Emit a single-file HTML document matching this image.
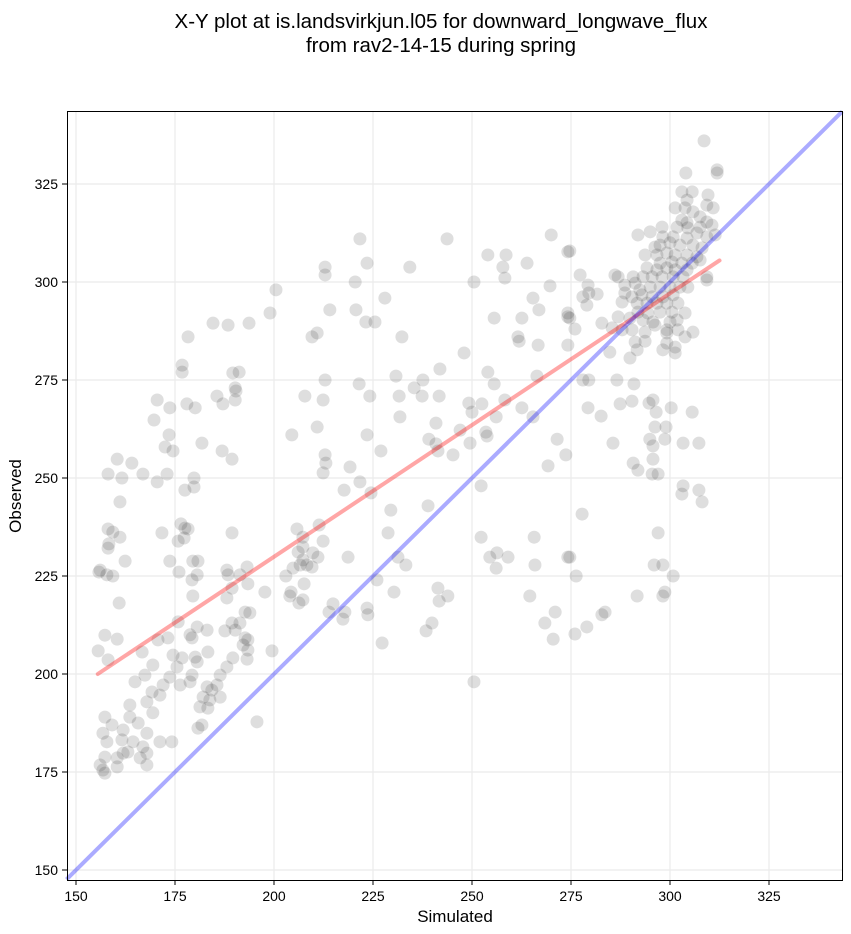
<!DOCTYPE html>
<html><head><meta charset="utf-8"><style>
html,body{margin:0;padding:0;background:#fff;}
svg{display:block;font-family:"Liberation Sans",sans-serif;}
</style></head><body>
<svg id="chart" width="851" height="934" viewBox="0 0 851 934" xmlns="http://www.w3.org/2000/svg">
<text x="441" y="28" text-anchor="middle" font-size="20.5">X-Y plot at is.landsvirkjun.l05 for downward_longwave_flux</text>
<text x="441" y="52" text-anchor="middle" font-size="20.5">from rav2-14-15 during spring</text>
<g id="grid"></g>
<g id="points"></g>
<g id="lines"></g>
<rect x="67.5" y="111.5" width="775" height="769" fill="none" stroke="#000" stroke-width="1"/>
<g id="ticks"></g>
<text x="455" y="922" text-anchor="middle" font-size="17">Simulated</text>
<text x="21" y="496" text-anchor="middle" font-size="17" transform="rotate(-90 21 496)">Observed</text>
</svg>
<script>
const xTicks = [150,175,200,225,250,275,300,325];
const yTicks = [150,175,200,225,250,275,300,325];
const domainMin = 147.6, domainMax = 343.5;
const fitStart = [155.5, 200];
const fitEnd = [312.5, 305.5];
const simulated = [
184.6,188.4,193.7,178.3,176.8,176.8,189.6,191.2,190.2,190.4,190.2,185.6,187.1,170.5,173.7,178.0,180.1,169.7,173.5,172.5,174.5,181.8,186.9,189.4,160.4,164.1,158.1,161.6,166.9,170.5,173.0,179.8,179.8,177.5,161.1,158.1,159.3,161.1,158.1,158.3,162.4,171.7,176.5,177.5,178.3,177.3,175.8,189.4,173.7,179.5,180.8,156.1,188.1,193.2,
155.8,157.8,159.3,176.0,180.6,179.3,188.4,191.4,193.4,189.4,188.1,197.7,160.9,179.5,192.7,193.9,189.4,191.4,187.6,190.2,183.1,180.6,178.8,179.3,175.8,173.2,170.7,192.7,193.4,192.2,193.4,199.5,157.3,160.4,155.6,158.1,166.7,174.5,176.8,180.1,180.6,183.3,189.6,193.2,169.4,167.4,164.9,173.7,175.5,179.3,172.0,171.2,176.3,178.8,183.1,184.3,185.6,186.4,188.1,182.1,183.8,186.4,181.3,183.3,169.2,167.9,163.6,169.4,163.6,157.3,159.1,161.9,165.7,167.9,164.4,161.6,157.8,156.8,166.9,171.2,174.2,180.8,181.8,195.7,157.3,160.4,161.9,163.1,167.9,166.2,167.9,156.8,160.4,156.1,157.3,
221.7,243.7,270.0,254.0,258.6,257.8,258.3,263.9,274.2,212.9,212.9,223.5,234.3,220.5,250.5,200.5,228.0,269.7,265.4,266.9,214.1,220.7,223.2,225.5,255.6,262.6,199.0,274.2,209.6,210.9,232.3,261.6,261.9,266.7,274.2,248.0,241.9,254.0,255.6,266.4,230.8,237.6,235.4,237.4,241.7,231.6,224.2,221.5,212.9,207.8,212.4,249.2,252.5,250.0,258.3,262.6,256.1,265.4,231.8,240.9,210.9,204.5,223.5,247.0,253.5,253.8,239.1,240.9,249.5,241.4,245.2,227.0,271.5,273.7,269.2,212.9,213.1,219.2,
212.4,221.7,217.7,224.5,252.3,229.5,238.9,211.4,205.8,207.3,212.4,228.8,252.3,265.7,207.3,206.1,209.8,211.1,218.7,207.3,208.3,209.6,206.6,204.8,203.0,207.6,231.3,233.3,254.5,256.3,259.1,256.1,265.9,274.2,226.0,204.3,204.0,206.3,207.3,214.9,213.9,217.9,217.4,223.5,223.7,230.3,241.4,241.7,243.9,264.6,271.0,268.4,270.5,239.9,238.4,227.3,250.5,
278.0,279.5,286.6,290.9,279.3,282.6,287.4,290.4,294.7,295.7,296.5,300.3,305.6,296.2,299.0,294.9,298.7,295.7,303.3,307.3,285.6,295.7,290.7,291.9,295.5,297.0,303.3,303.0,307.3,308.1,277.8,297.0,274.7,276.3,296.0,298.2,300.8,291.7,298.2,298.7,282.8,283.6,279.0,276.0,
308.6,304.0,311.9,311.9,303.0,305.6,309.6,304.3,301.3,303.8,309.3,310.9,305.8,307.6,303.0,304.3,309.3,310.6,301.8,304.5,307.6,298.0,295.0,291.9,298.2,300.8,304.3,306.8,309.3,311.4,300.0,302.5,305.8,308.1,296.2,297.5,293.7,296.7,299.2,301.3,304.3,306.8,297.5,300.5,303.0,305.6,307.6,294.2,296.7,299.2,301.3,304.3,293.2,295.5,298.0,300.8,303.3,309.3,286.1,286.9,290.7,274.7,277.3,279.3,279.5,278.0,281.6,279.0,288.6,291.2,292.4,295.0,297.5,300.0,302.5,304.5,309.3,288.6,290.4,292.9,295.5,298.2,300.8,287.9,291.7,294.2,296.7,299.2,302.0,291.9,294.4,297.5,300.5,303.8,286.9,289.9,293.2,295.7,300.0,301.8,274.2,274.7,276.0,282.8,285.4,287.9,290.4,293.7,296.2,299.2,302.0,299.2,303.8,305.8,291.2,293.7,299.2,301.3,284.8,291.7,298.2,301.3,289.9
];
const observed = [
289.5,289.0,289.5,286.0,278.8,277.0,276.8,277.0,273.0,272.2,269.9,270.9,268.9,269.9,267.9,268.9,267.9,264.8,261.0,257.9,256.9,258.9,256.9,254.8,254.8,253.8,251.0,250.0,251.0,249.0,251.0,250.0,247.7,246.9,243.9,237.0,236.2,234.9,232.1,233.2,228.8,236.0,238.3,237.2,237.0,234.7,233.9,236.0,228.8,228.8,228.8,226.5,226.5,227.3,
226.0,225.3,225.0,226.0,225.3,224.0,225.3,225.3,223.0,221.9,219.4,220.9,218.1,219.9,215.8,215.6,213.0,213.0,211.0,211.2,211.2,212.0,210.0,209.2,213.3,209.2,208.7,209.2,208.7,207.4,206.1,205.9,209.9,208.9,205.9,203.6,205.6,204.8,204.1,204.3,203.1,205.6,204.1,203.8,202.3,199.7,198.0,199.2,201.8,199.7,197.2,194.6,197.2,198.0,196.7,195.9,197.2,199.7,201.8,194.1,193.4,194.1,191.6,191.3,195.4,192.9,192.1,190.1,189.0,189.0,187.0,185.7,187.5,184.9,182.7,183.2,182.7,184.9,181.4,182.7,182.7,186.2,187.0,187.8,178.8,178.6,179.8,180.1,179.8,178.6,176.8,175.5,176.3,176.8,174.7,
311.0,311.0,312.0,306.9,306.9,303.8,301.0,304.8,307.7,303.8,301.8,304.8,303.8,300.0,300.0,298.0,295.9,299.0,295.9,292.9,292.9,292.9,289.8,289.8,290.8,290.8,292.1,291.1,286.0,287.0,286.0,286.0,284.9,283.9,283.9,281.9,277.8,277.0,274.0,276.0,276.0,275.0,273.0,270.9,270.9,270.9,270.9,274.0,275.0,270.9,269.9,269.1,268.9,266.8,269.9,267.9,265.6,265.6,265.6,264.0,263.0,261.0,261.0,262.2,261.7,260.7,259.9,258.7,258.9,256.9,255.9,256.9,259.9,255.9,253.1,255.9,253.8,252.8,
251.3,249.0,246.9,246.2,248.0,241.8,242.9,238.0,237.0,234.9,233.9,236.0,234.9,234.9,232.4,231.1,230.9,229.8,229.8,229.1,227.8,227.3,227.8,227.0,225.0,223.0,229.8,227.8,229.8,230.9,229.8,227.0,227.8,229.8,224.0,220.9,219.9,218.1,218.9,217.9,215.8,215.8,214.0,216.8,215.1,220.9,221.9,218.6,219.9,219.9,215.8,213.0,208.9,213.0,211.0,207.9,198.0,
275.0,275.0,275.0,274.0,267.9,265.8,268.9,269.6,269.1,269.9,266.8,267.9,266.8,263.0,263.0,259.9,259.9,258.2,258.9,258.9,258.9,254.8,253.8,252.0,251.0,251.0,248.0,245.9,246.9,243.9,240.8,236.0,229.8,225.0,227.8,227.8,225.0,219.9,219.9,220.9,215.1,215.8,212.0,210.2,
336.0,327.8,328.6,327.8,323.0,323.0,322.2,320.9,318.9,318.9,319.6,318.9,317.9,316.6,315.8,315.1,315.3,314.5,314.0,313.8,314.0,314.0,312.8,312.0,311.5,311.5,311.2,312.5,311.5,312.0,310.0,309.4,309.4,308.7,308.9,309.4,306.9,306.9,307.4,306.9,306.9,306.4,304.8,305.1,304.8,304.8,305.6,303.6,303.1,303.6,303.1,303.1,301.3,301.3,301.3,301.3,301.3,301.3,301.8,301.3,301.3,307.9,301.8,299.2,297.2,296.2,296.9,294.1,299.2,299.7,298.0,298.7,298.7,298.7,298.7,298.7,300.5,297.2,296.2,296.7,296.2,296.2,296.7,294.9,294.6,294.6,294.6,294.6,294.6,292.3,292.1,292.3,292.3,292.1,291.1,290.8,290.3,289.8,289.8,290.3,292.1,290.8,288.0,289.5,288.3,287.8,287.8,287.2,289.0,287.8,287.8,287.0,286.0,287.2,284.7,284.9,284.4,283.4,282.1,282.7,282.7,281.9,280.6
];
const NS='http://www.w3.org/2000/svg';
function sx(v){return 76+(v-150)*3.96;}
function sy(v){return 870-(v-150)*3.92;}
const grid=document.getElementById('grid');
const ticks=document.getElementById('ticks');
xTicks.forEach(t=>{
  const g=document.createElementNS(NS,'line');
  
  
  g.setAttribute('x1',sx(t));g.setAttribute('x2',sx(t));g.setAttribute('y1',111);g.setAttribute('y2',880);
  g.setAttribute('stroke','#ebebeb');g.setAttribute('stroke-width','1.2');grid.appendChild(g);
  const tk=document.createElementNS(NS,'line');
  
  
  tk.setAttribute('x1',sx(t));tk.setAttribute('x2',sx(t));tk.setAttribute('y1',880);tk.setAttribute('y2',885);
  tk.setAttribute('stroke','#000');ticks.appendChild(tk);
  const tx=document.createElementNS(NS,'text');
  
  
  tx.setAttribute('x',sx(t));tx.setAttribute('y',901);tx.setAttribute('text-anchor','middle');tx.setAttribute('font-size','14');
  tx.textContent=t;ticks.appendChild(tx);
});
yTicks.forEach(t=>{
  const g=document.createElementNS(NS,'line');
  
  
  g.setAttribute('x1',67);g.setAttribute('x2',842);g.setAttribute('y1',sy(t));g.setAttribute('y2',sy(t));
  g.setAttribute('stroke','#ebebeb');g.setAttribute('stroke-width','1.2');grid.appendChild(g);
  const tk=document.createElementNS(NS,'line');
  
  
  tk.setAttribute('x1',62);tk.setAttribute('x2',67);tk.setAttribute('y1',sy(t));tk.setAttribute('y2',sy(t));
  tk.setAttribute('stroke','#000');ticks.appendChild(tk);
  const tx=document.createElementNS(NS,'text');
  
  
  tx.setAttribute('x',58);tx.setAttribute('y',sy(t)+5);tx.setAttribute('text-anchor','end');tx.setAttribute('font-size','14');
  tx.textContent=t;ticks.appendChild(tx);
});
const pts=document.getElementById('points');
const n=Math.min(simulated.length,observed.length);
for(let i=0;i<n;i++){
  const c=document.createElementNS(NS,'circle');
  
  
  c.setAttribute('cx',sx(simulated[i]));c.setAttribute('cy',sy(observed[i]));c.setAttribute('r','6.5');
  c.setAttribute('fill','#000');c.setAttribute('fill-opacity','0.13');
  pts.appendChild(c);
}
const lines=document.getElementById('lines');
const red=document.createElementNS(NS,'line');


red.setAttribute('x1',sx(fitStart[0]));red.setAttribute('y1',sy(fitStart[1]));
red.setAttribute('x2',sx(fitEnd[0]));red.setAttribute('y2',sy(fitEnd[1]));
red.setAttribute('stroke','#ff0000');red.setAttribute('stroke-opacity','0.35');red.setAttribute('stroke-width','4');red.setAttribute('stroke-linecap','round');
lines.appendChild(red);
const blue=document.createElementNS(NS,'line');


blue.setAttribute('x1',sx(domainMin));blue.setAttribute('y1',sy(domainMin));
blue.setAttribute('x2',sx(domainMax));blue.setAttribute('y2',sy(domainMax));
blue.setAttribute('stroke','#0000ff');blue.setAttribute('stroke-opacity','0.33');blue.setAttribute('stroke-width','4');
lines.appendChild(blue);
</script>
</body></html>
